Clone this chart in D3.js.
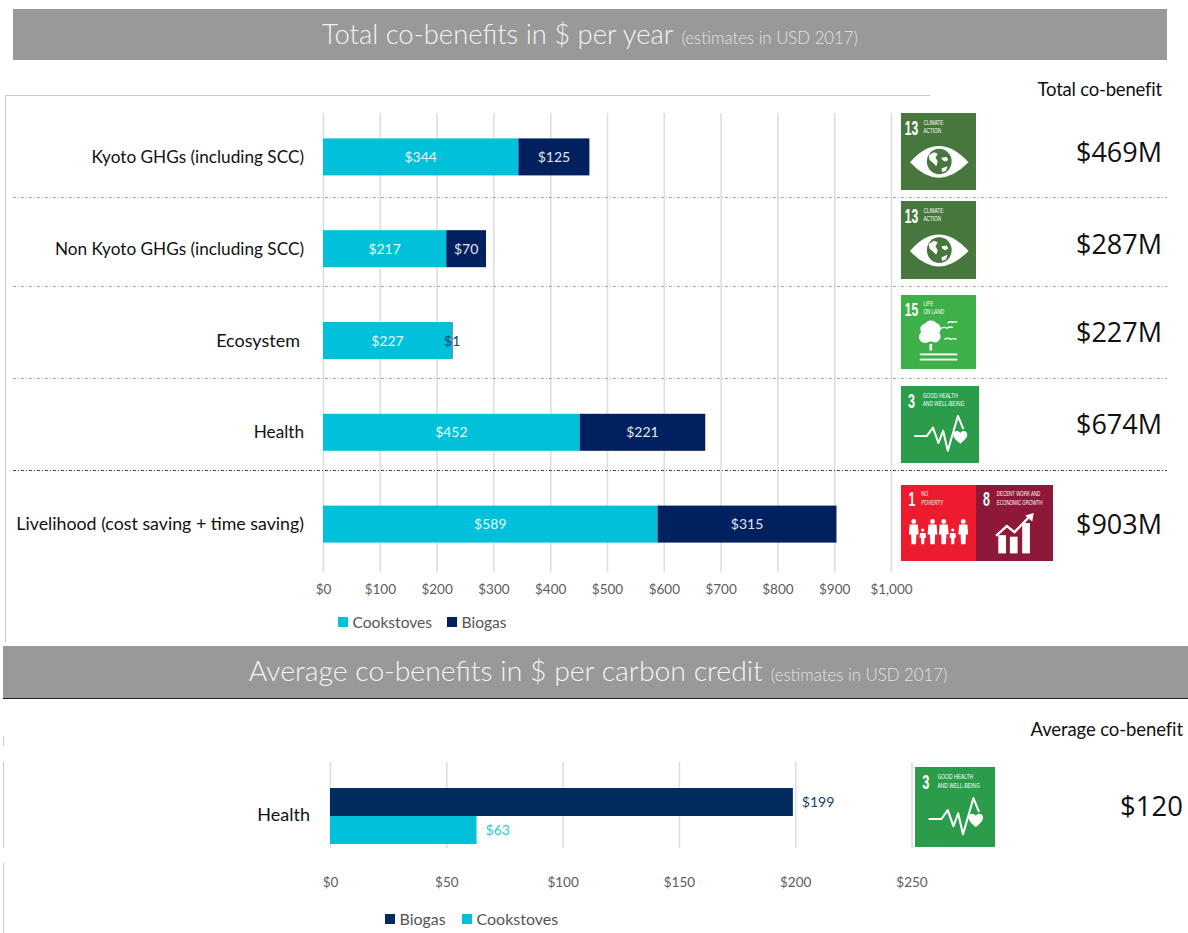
<!DOCTYPE html>
<html>
<head>
<meta charset="utf-8">
<style>
html,body{margin:0;padding:0;background:#fff}
svg{display:block;font-family:Lato,"Noto Sans",sans-serif}
</style>
<script src="https://cdnjs.cloudflare.com/ajax/libs/d3/7.8.5/d3.min.js"></script>
</head>
<body>
<div id="chart"></div>
<script>
// Total co-benefits, $ millions per year
const categories = ["Kyoto GHGs (including SCC)", "Non Kyoto GHGs (including SCC)", "Ecosystem", "Health", "Livelihood (cost saving + time saving)"];
const cookstoves = [344, 217, 227, 452, 589];
const biogas = [125, 70, 1, 221, 315];
const totals = ["$469M", "$287M", "$227M", "$674M", "$903M"];
const totalTicks = [0, 100, 200, 300, 400, 500, 600, 700, 800, 900, 1000];
const goalSets = [[13], [13], [15], [3], [1, 8]];

// Average co-benefits, $ per carbon credit
const avgCategories = ["Biogas", "Cookstoves"];
const avgValues = [199, 63];
const avgTicks = [0, 50, 100, 150, 200, 250];
const avgTotal = "$120";

// Per-row text tweaks for the upper panel
const labelSizes = [17.2, 17.2, 18, 17.2, 17.8];
const labelRight = [304, 304, 300, 304, 304];
const totalNudge = [-1, -1, -5, -4, 4];

const CYAN = "#00c0da", NAVY = "#002060", NAVY2 = "#002d5e", GRID = "#dedede", BAND = "#999999";

const svg = d3.select("#chart").append("svg").attr("width", 1188).attr("height", 933);
const money = d3.format("$,");

// Grey heading strips
function heading(x, y, w, h, cx, main, sub, mainSize, subSize) {
  svg.append("rect").attr("x", x).attr("y", y).attr("width", w).attr("height", h).attr("fill", BAND);
  const t = svg.append("text").attr("x", cx).attr("y", y + h / 2 + mainSize * 0.33)
    .attr("text-anchor", "middle").attr("fill", "#f4f4f4").attr("font-weight", 300);
  t.append("tspan").attr("font-size", mainSize).text(main);
  t.append("tspan").attr("font-size", subSize).attr("dx", 8).attr("fill", "#e2e2e2").text(sub);
}
heading(13, 9, 1154, 51, 590, "Total co-benefits in $ per year", "(estimates in USD 2017)", 27.4, 16.8);
heading(3, 646, 1185, 52, 598, "Average co-benefits in $ per carbon credit", "(estimates in USD 2017)", 28.4, 16.8);
svg.append("line").attr("x1", 3).attr("x2", 1188).attr("y1", 698.5).attr("y2", 698.5).attr("stroke", "#222");

// Frame fragments around the panels
const frame = svg.append("g").attr("stroke", "#c8c8c8").attr("fill", "none");
frame.append("path").attr("d", "M5.5 642V95.5H930");
[[736, 746], [762, 848], [863, 933]].forEach(([a, b]) =>
  frame.append("line").attr("x1", 3.5).attr("x2", 3.5).attr("y1", a).attr("y2", b));

// ---------- Upper panel ----------
const x1 = d3.scaleLinear().domain([0, 1000]).range([323, 891]);
const y1 = d3.scaleBand().domain(categories).range([111, 570]).paddingInner(0.597).paddingOuter(0.2985);

const axis1 = svg.append("g").attr("transform", "translate(0,572)")
  .call(d3.axisBottom(x1).tickValues(totalTicks).tickFormat(money).tickSize(-459).tickPadding(12));
axis1.select(".domain").remove();
axis1.selectAll("line").attr("stroke", GRID).attr("stroke-width", 1.6);
axis1.selectAll("text").attr("font-size", 13.5).attr("fill", "#5c5c5c").attr("font-family", "Lato");

// Row separators
[197, 286, 378, 470].forEach((yy, i) =>
  svg.append("line").attr("x1", 13).attr("x2", 1167).attr("y1", yy + 0.5).attr("y2", yy + 0.5)
    .attr("stroke", i === 3 ? "#444" : "#a6a6a6").attr("stroke-dasharray", "3 2 1 2"));

categories.forEach((c, i) => {
  const yy = y1(c), h = y1.bandwidth(), mid = yy + h / 2;
  const xa = x1(0), xb = x1(cookstoves[i]), xc = x1(cookstoves[i] + biogas[i]);
  svg.append("rect").attr("x", xa).attr("y", yy).attr("width", xb - xa).attr("height", h).attr("fill", CYAN);
  svg.append("rect").attr("x", xb).attr("y", yy).attr("width", xc - xb).attr("height", h).attr("fill", NAVY);
  svg.append("text").attr("x", (xa + xb) / 2).attr("y", mid + 5).attr("text-anchor", "middle")
    .attr("font-size", 14).attr("fill", "#e6f8fb").text(money(cookstoves[i]));
  svg.append("text").attr("x", (xb + xc) / 2).attr("y", mid + 5).attr("text-anchor", "middle")
    .attr("font-size", 14).attr("fill", biogas[i] < 10 ? "#17406d" : "#e2e6ee").text(money(biogas[i]));
  svg.append("text").attr("x", labelRight[i]).attr("y", mid + 6).attr("text-anchor", "end")
    .attr("font-size", labelSizes[i]).attr("fill", "#111").text(c);
  svg.append("text").attr("x", 1162).attr("y", mid + 6 + totalNudge[i]).attr("text-anchor", "end")
    .attr("font-family", "Open Sans").attr("font-size", 27).attr("fill", "#111").text(totals[i]);
});

svg.append("text").attr("x", 1162).attr("y", 96).attr("text-anchor", "end")
  .attr("font-size", 18.5).attr("letter-spacing", -0.2).attr("fill", "#111").text("Total co-benefit");

// Legend helper, shared by both panels
function legend(items, y, size) {
  items.forEach(([label, col, sx]) => {
    svg.append("rect").attr("x", sx).attr("y", y - 5).attr("width", 10).attr("height", 10).attr("fill", col);
    svg.append("text").attr("x", sx + 14.5).attr("y", y + 5.5).attr("font-size", size).attr("fill", "#555").text(label);
  });
}
legend([["Cookstoves", CYAN, 338], ["Biogas", NAVY, 447]], 622, 15.6);

// ---------- Lower panel ----------
const x2 = d3.scaleLinear().domain([0, 250]).range([330, 911.5]);
const y2 = d3.scaleBand().domain(avgCategories).range([788, 844]);

const axis2 = svg.append("g").attr("transform", "translate(0,848)")
  .call(d3.axisBottom(x2).tickValues(avgTicks).tickFormat(money).tickSize(-86).tickPadding(29));
axis2.select(".domain").remove();
axis2.selectAll("line").attr("stroke", GRID).attr("stroke-width", 1.6);
axis2.selectAll("text").attr("font-size", 13.5).attr("fill", "#5c5c5c").attr("font-family", "Lato");

const avgColors = [NAVY2, CYAN];
const avgLabelColors = ["#17406d", "#2cc7dd"];
avgCategories.forEach((c, i) => {
  svg.append("rect").attr("x", x2(0)).attr("y", y2(c)).attr("width", x2(avgValues[i]) - x2(0))
    .attr("height", y2.bandwidth()).attr("fill", avgColors[i]);
  svg.append("text").attr("x", x2(avgValues[i]) + 9).attr("y", y2(c) + y2.bandwidth() / 2 + 5)
    .attr("font-size", 14).attr("fill", avgLabelColors[i]).text(money(avgValues[i]));
});
svg.append("text").attr("x", 310).attr("y", 821).attr("text-anchor", "end")
  .attr("font-size", 18).attr("fill", "#111").text("Health");
svg.append("text").attr("x", 1183).attr("y", 736).attr("text-anchor", "end")
  .attr("font-size", 18.5).attr("letter-spacing", -0.1).attr("fill", "#111").text("Average co-benefit");
svg.append("text").attr("x", 1183).attr("y", 816).attr("text-anchor", "end")
  .attr("font-family", "Open Sans").attr("font-size", 27.5).attr("fill", "#111").text(avgTotal);
legend([["Biogas", NAVY2, 385], ["Cookstoves", CYAN, 462]], 919, 16);

// ---------- Sustainable Development Goal tiles (drawn in a 100-unit box) ----------
const goals = {
  1:  {fill: "#ed1b2e", lines: ["NO", "POVERTY"], numX: 10, textX: 27},
  3:  {fill: "#2b9c4a", lines: ["GOOD HEALTH", "AND WELL-BEING"], numX: 9, textX: 28},
  8:  {fill: "#8e1838", lines: ["DECENT WORK AND", "ECONOMIC GROWTH"], numX: 9, textX: 27},
  13: {fill: "#48773e", lines: ["CLIMATE", "ACTION"], numX: 5, textX: 30},
  15: {fill: "#3eb049", lines: ["LIFE", "ON LAND"], numX: 5, textX: 30}
};
const WHITE = "#fff";

function drawEye(g, fill) {
  g.append("path").attr("d", "M12 64Q50 22 90 64Q50 104 12 64Z").attr("fill", WHITE);
  g.append("circle").attr("cx", 51).attr("cy", 63).attr("r", 16.5).attr("fill", fill);
  g.append("path").attr("d", "M37 55l7-4 5 2-3 5 3 5-2 6-4-4-5-4Z M54 58l7-1 2 4-4 2-4-2Z M54 72l8-3-2 6-5 2Z").attr("fill", WHITE);
}
function drawTree(g) {
  g.append("path").attr("d", "M27 50a7 7 0 0 1 5-11a9 9 0 0 1 15-1a8 8 0 0 1 4 13a8 8 0 0 1-10 12h-3a8 8 0 0 1-11-13Z").attr("fill", WHITE);
  g.append("rect").attr("x", 38).attr("y", 66).attr("width", 3.5).attr("height", 9).attr("fill", WHITE);
  g.append("rect").attr("x", 25).attr("y", 79).attr("width", 50).attr("height", 2.5).attr("fill", WHITE);
  g.append("rect").attr("x", 25).attr("y", 86).attr("width", 50).attr("height", 2.5).attr("fill", WHITE);
  g.append("path").attr("d", "M52 46q5-4 9-1q5-3 8-1 M62 38q4-3 7-1q4-2 6 0 M58 60q5-3 8 0q4-2 8 0")
    .attr("fill", "none").attr("stroke", WHITE).attr("stroke-width", 1.8);
}
function drawPulse(g) {
  g.append("path").attr("d", "M17 65H33L41 54L48 74L54 58L60 84L73 39L80 56")
    .attr("fill", "none").attr("stroke", WHITE).attr("stroke-width", 2.6).attr("stroke-linejoin", "round");
  g.append("path").attr("d", "M76 75C70 70 67 67 67 63C67 58 73 57 76 61C79 57 85 58 85 63C85 67 82 70 76 75Z").attr("fill", WHITE);
}
function drawFamily(g) {
  const people = [[17, 1.0], [29, 0.66], [42, 1.0], [57, 1.0], [69, 0.66], [83, 1.0]];
  const foot = 78, tall = 33;
  people.forEach(([cx, s]) => {
    const top = foot - tall * s;
    g.append("circle").attr("cx", cx).attr("cy", top + 3).attr("r", 3.2 * s).attr("fill", WHITE);
    g.append("path").attr("d", `M${cx - 5.5 * s} ${top + 7}H${cx + 5.5 * s}L${cx + 6.5 * s} ${top + 20 * s}L${cx + 3.5 * s} ${top + 20 * s}L${cx + 3 * s} ${foot}H${cx - 3 * s}L${cx - 3.5 * s} ${top + 20 * s}L${cx - 6.5 * s} ${top + 20 * s}Z`).attr("fill", WHITE);
  });
}
function drawGrowth(g) {
  [[29, 66], [44, 68], [60, 50]].forEach(([bx, by]) =>
    g.append("rect").attr("x", bx).attr("y", by).attr("width", 10).attr("height", 90 - by).attr("fill", WHITE));
  g.append("path").attr("d", "M26 67L40 54L50 62L70 41").attr("fill", "none").attr("stroke", WHITE).attr("stroke-width", 3);
  g.append("path").attr("d", "M64 40L75 37L73 48Z").attr("fill", WHITE);
}
const emblems = {1: drawFamily, 3: drawPulse, 8: drawGrowth, 13: drawEye, 15: drawTree};

// Condensed white tile lettering: no narrow face is available, so squeeze Liberation Sans horizontally
function squeezed(g, str, x, y, size, squeeze, weight) {
  g.append("text").attr("transform", `translate(${x},${y}) scale(${squeeze},1)`)
    .attr("font-family", "Liberation Sans").attr("font-size", size).attr("font-weight", weight)
    .attr("fill", WHITE).text(str);
}

function tile(goal, x, y, w, h) {
  const spec = goals[goal];
  const g = svg.append("g").attr("transform", `translate(${x},${y}) scale(${w / 100},${h / 100})`);
  g.append("rect").attr("width", 100).attr("height", 100).attr("fill", spec.fill);
  squeezed(g, String(goal), spec.numX, 28, 26, 0.62, 700);
  const long = spec.lines[0].length > 12;
  spec.lines.forEach((l, i) => squeezed(g, l, spec.textX, 15 + i * 11, long ? 9 : 9.4, long ? 0.64 : 0.66, 400));
  emblems[goal](g, spec.fill);
}

const tileBoxes = [[901, 113, 75, 77], [901, 201, 75, 78], [901, 295, 75, 74], [901, 386, 78, 77]];
goalSets.forEach((set, i) => {
  if (set.length === 1) {
    tile(set[0], ...tileBoxes[i]);
  } else {
    tile(set[0], 901, 485, 75, 76);
    tile(set[1], 976, 485, 77, 76);
  }
});
tile(3, 915, 767, 80, 80);
</script>
</body>
</html>
